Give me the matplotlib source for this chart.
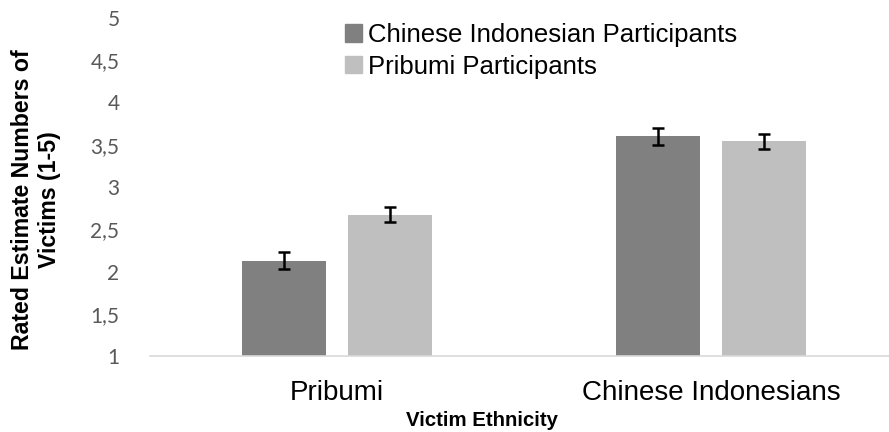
import matplotlib
matplotlib.use("Agg")
import matplotlib.pyplot as plt
from matplotlib.patches import Patch
import numpy as np

categories = ["Pribumi", "Chinese Indonesians"]
series_names = ["Chinese Indonesian Participants", "Pribumi Participants"]
chinese_participants = [2.13, 3.60]
chinese_err = [0.10, 0.10]
pribumi_participants = [2.67, 3.54]
pribumi_err = [0.09, 0.087]
y_ticks = [1, 1.5, 2, 2.5, 3, 3.5, 4, 4.5, 5]
y_tick_labels = ["1", "1,5", "2", "2,5", "3", "3,5", "4", "4,5", "5"]

dark = "#808080"
light = "#bfbfbf"

fig = plt.figure(figsize=(8.89, 4.32), dpi=100)
W, H = 889, 432
ax = fig.add_axes([150 / W, 1 - 356 / H, (889 - 150) / W, (356 - 18) / H])

x = np.arange(len(categories))
bw = 0.2246
off = 0.142
err_kw = dict(ecolor="black", capsize=4.5, elinewidth=1.8, capthick=1.8)
ax.bar(x - off, chinese_participants, bw, color=dark,
       yerr=chinese_err, error_kw=err_kw, label=series_names[0], zorder=2)
ax.bar(x + off, pribumi_participants, bw, color=light,
       yerr=pribumi_err, error_kw=err_kw, label=series_names[1], zorder=2)

ax.set_ylim(1, 5)
ax.set_xlim(-0.5, -0.5 + (889 - 150) / 374)
ax.set_yticks(y_ticks)
ax.set_yticklabels(y_tick_labels, family="Lato", fontsize=15, color="#595959")
ax.set_xticks(x)
ax.set_xticklabels(categories, family="Liberation Sans", fontsize=20, color="black")
ax.tick_params(axis="y", length=0, pad=22)
ax.tick_params(axis="x", length=0, pad=17)
for s in ["top", "right", "left"]:
    ax.spines[s].set_visible(False)
ax.spines["bottom"].set_color("#d9d9d9")
ax.spines["bottom"].set_linewidth(1.2)

fig.text(482 / W, 1 - 420 / H, "Victim Ethnicity", family="Liberation Sans",
         fontweight="bold", fontsize=14.7, ha="center", va="center")
fig.text(36 / W, 1 - 200 / H, "Rated Estimate Numbers of\nVictims (1-5)",
         family="Liberation Sans", fontweight="bold", fontsize=16.7,
         ha="center", va="center", rotation=90, linespacing=1.25)

handles = [Patch(color=dark), Patch(color=light)]
leg = fig.legend(handles, series_names, loc="upper left",
                 bbox_to_anchor=(345 / W, 1 - 23 / H), frameon=False,
                 prop={"family": "Liberation Sans", "size": 18.5},
                 handlelength=0.65, handleheight=0.65, handletextpad=0.25,
                 labelspacing=0.3, borderpad=0, borderaxespad=0)

fig.savefig("out.png", dpi=100)
